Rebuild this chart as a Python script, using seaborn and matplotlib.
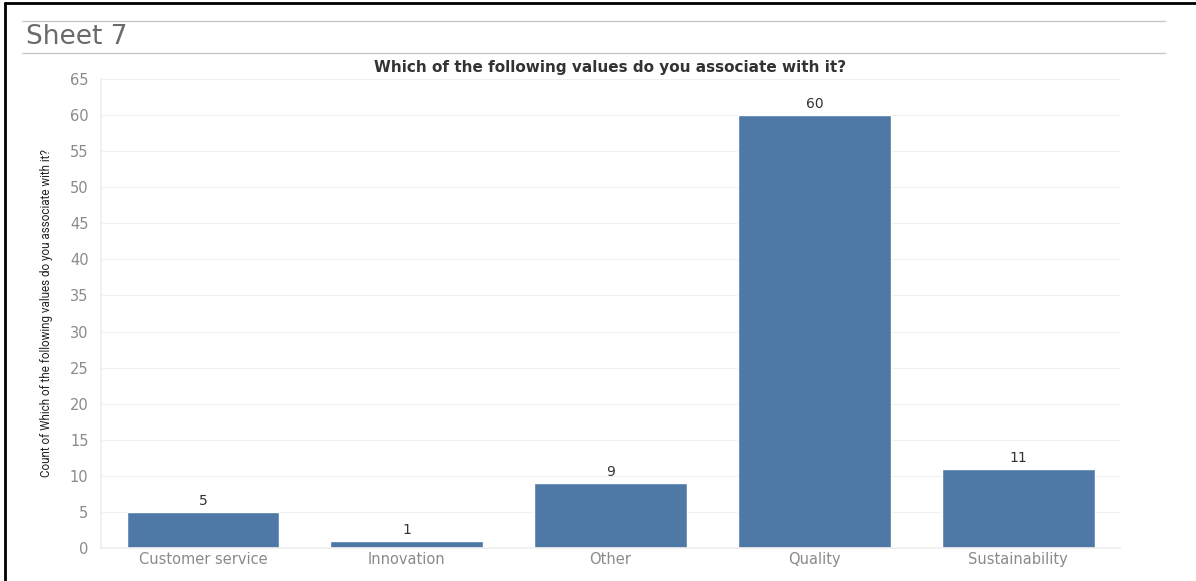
import pandas as pd
import matplotlib.pyplot as plt
import seaborn as sns
from matplotlib.lines import Line2D

# Chart data
categories = ['Customer service', 'Innovation', 'Other', 'Quality', 'Sustainability']
counts = [5, 1, 9, 60, 11]
y_ticks = list(range(0, 70, 5))

df = pd.DataFrame({'Value': categories, 'Count': counts})

sns.set_theme(style='white')
plt.rcParams['font.family'] = ['DejaVu Sans']

fig = plt.figure(figsize=(11.96, 5.81), dpi=100)
ax = fig.add_axes([0.0845, 0.0568, 0.852, 0.8072])

sns.barplot(data=df, x='Value', y='Count', color='#4e79a7', width=0.75,
            saturation=1, ax=ax)

for i, v in enumerate(counts):
    ax.text(i, v + 0.5, str(v), ha='center', va='bottom', fontsize=10, color='#333333')

ax.set_ylim(0, 65)
ax.set_xlim(-0.5, len(categories) - 0.5)
ax.set_yticks(y_ticks)
ax.yaxis.grid(True, color='#f0f0f0', linewidth=0.8)
ax.set_axisbelow(True)
ax.tick_params(axis='both', labelsize=10.5, labelcolor='#8a8a8a', length=0)
ax.tick_params(axis='y', pad=9)
ax.tick_params(axis='x', pad=3)
for s in ['top', 'right']:
    ax.spines[s].set_visible(False)
ax.spines['left'].set_color('#eeeeee')
ax.spines['bottom'].set_color('#eeeeee')
ax.set_xlabel('')
ax.set_ylabel('Count of Which of the following values do you associate with it?',
              fontsize=8.4, color='#222222', family='Roboto', labelpad=12)
ax.set_title('Which of the following values do you associate with it?',
             fontsize=11, fontweight='bold', color='#333333', pad=5)

# Dashboard header and frame
fig.text(0.022, 0.936, 'Sheet 7', fontsize=19, color='#6a6a6a', va='center')
fig.add_artist(Line2D([0.018, 0.974], [0.964, 0.964], color='#c8c8c8', lw=1))
fig.add_artist(Line2D([0.018, 0.974], [0.909, 0.909], color='#c8c8c8', lw=1))
fig.add_artist(Line2D([0.004, 1.0], [0.994, 0.994], color='black', lw=2))
fig.add_artist(Line2D([0.004, 0.004], [0.0, 0.994], color='black', lw=2))

plt.savefig('out.png', dpi=100)
